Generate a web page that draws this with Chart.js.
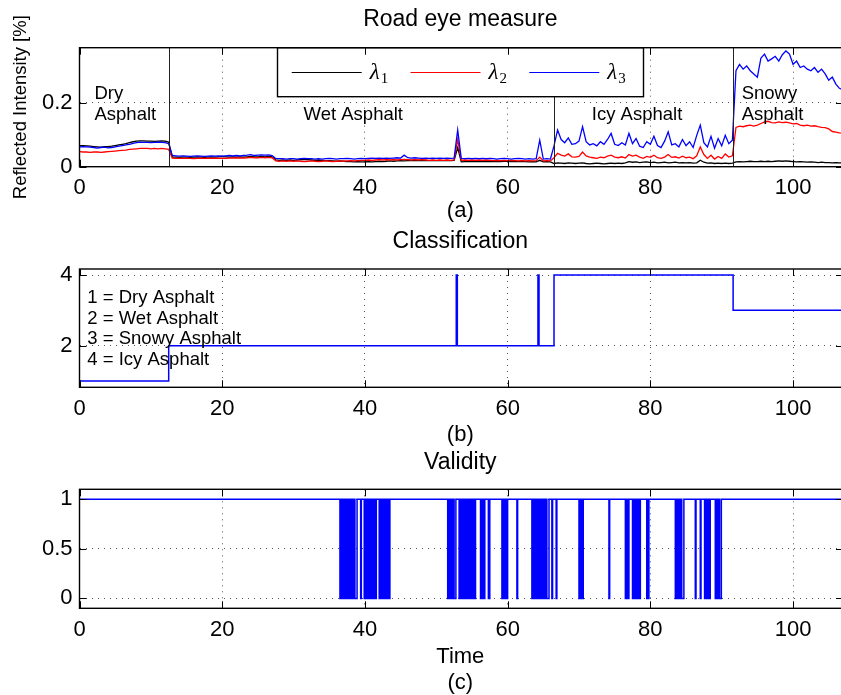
<!DOCTYPE html>
<html>
<head>
<meta charset="utf-8">
<script src="https://cdn.jsdelivr.net/npm/chart.js@4.4.0/dist/chart.umd.min.js"></script>
<style>
html, body { margin: 0; padding: 0; background: #fff; }
#wrap { position: relative; width: 841px; height: 695px; overflow: hidden; }
#wrap canvas { position: absolute; left: 0; }
</style>
</head>
<body>
<div id="wrap">
  <canvas id="measure" width="843" height="225" style="top:0"></canvas>
  <canvas id="classif" width="843" height="225" style="top:225px"></canvas>
  <canvas id="valid" width="843" height="245" style="top:450px"></canvas>
</div>
<script>
// sample step of the road eye signals [s]
var dt = 0.5;

// reflected intensity, one value every dt from t = 0 to 107
var lambda1 = [
  0.066,0.066,0.065,0.064,0.063,0.062,0.061,0.063,0.063,0.064,
  0.066,0.068,0.070,0.072,0.075,0.078,0.080,0.081,0.081,0.080,
  0.080,0.079,0.080,0.081,0.080,0.077,0.030,0.030,0.029,0.030,
  0.030,0.029,0.030,0.031,0.030,0.029,0.030,0.031,0.030,0.031,
  0.032,0.031,0.030,0.031,0.030,0.031,0.030,0.031,0.032,0.031,
  0.031,0.032,0.031,0.032,0.031,0.021,0.020,0.021,0.020,0.021,
  0.020,0.021,0.022,0.023,0.022,0.021,0.020,0.021,0.020,0.019,
  0.019,0.018,0.017,0.018,0.017,0.016,0.016,0.015,0.016,0.015,
  0.015,0.016,0.015,0.016,0.017,0.016,0.017,0.018,0.017,0.018,
  0.019,0.018,0.019,0.020,0.019,0.020,0.019,0.020,0.019,0.020,
  0.019,0.020,0.019,0.020,0.019,0.020,0.060,0.015,0.016,0.017,
  0.016,0.017,0.016,0.017,0.016,0.017,0.016,0.017,0.016,0.017,
  0.017,0.016,0.017,0.016,0.017,0.016,0.015,0.016,0.015,0.020,
  0.015,0.016,0.015,0.010,0.012,0.011,0.010,0.012,0.011,0.010,
  0.011,0.012,0.010,0.009,0.010,0.011,0.010,0.009,0.010,0.011,
  0.010,0.011,0.010,0.012,0.016,0.014,0.015,0.013,0.014,0.015,
  0.013,0.014,0.012,0.013,0.014,0.012,0.013,0.014,0.012,0.013,
  0.012,0.013,0.011,0.012,0.020,0.014,0.011,0.012,0.010,0.011,
  0.010,0.011,0.010,0.011,0.015,0.016,0.015,0.016,0.017,0.016,
  0.016,0.017,0.016,0.017,0.016,0.017,0.018,0.017,0.018,0.017,
  0.016,0.015,0.016,0.015,0.014,0.015,0.014,0.013,0.014,0.013,
  0.013,0.012,0.013,0.012,0.012
];
var lambda2 = [
  0.047,0.046,0.046,0.045,0.046,0.046,0.045,0.046,0.047,0.048,
  0.049,0.050,0.051,0.052,0.054,0.055,0.056,0.057,0.057,0.057,
  0.056,0.057,0.056,0.057,0.056,0.054,0.027,0.026,0.027,0.026,
  0.027,0.026,0.025,0.026,0.027,0.026,0.027,0.026,0.027,0.026,
  0.027,0.026,0.027,0.028,0.027,0.028,0.027,0.028,0.029,0.028,
  0.028,0.029,0.028,0.029,0.028,0.018,0.017,0.018,0.017,0.018,
  0.017,0.018,0.017,0.016,0.017,0.018,0.017,0.016,0.017,0.018,
  0.017,0.016,0.017,0.018,0.017,0.018,0.019,0.018,0.019,0.020,
  0.020,0.021,0.020,0.021,0.022,0.021,0.022,0.021,0.022,0.021,
  0.022,0.023,0.022,0.021,0.022,0.021,0.022,0.021,0.020,0.021,
  0.020,0.021,0.020,0.021,0.020,0.021,0.085,0.020,0.021,0.020,
  0.021,0.020,0.021,0.020,0.021,0.020,0.019,0.020,0.019,0.020,
  0.019,0.020,0.019,0.018,0.019,0.018,0.019,0.018,0.019,0.030,
  0.018,0.019,0.018,0.028,0.042,0.036,0.033,0.040,0.031,0.030,
  0.032,0.046,0.034,0.030,0.028,0.026,0.030,0.028,0.033,0.036,
  0.030,0.028,0.031,0.027,0.038,0.033,0.036,0.030,0.026,0.032,
  0.029,0.036,0.028,0.026,0.030,0.038,0.029,0.031,0.027,0.033,
  0.028,0.030,0.025,0.034,0.062,0.038,0.026,0.036,0.024,0.032,
  0.026,0.040,0.030,0.034,0.123,0.127,0.125,0.128,0.130,0.127,
  0.130,0.135,0.140,0.142,0.138,0.137,0.140,0.138,0.139,0.137,
  0.134,0.135,0.130,0.128,0.130,0.127,0.128,0.125,0.123,0.122,
  0.118,0.110,0.108,0.106,0.105
];
var lambda3 = [
  0.062,0.063,0.062,0.061,0.060,0.058,0.060,0.061,0.059,0.060,
  0.062,0.064,0.066,0.068,0.070,0.073,0.075,0.077,0.076,0.076,
  0.075,0.076,0.077,0.076,0.075,0.072,0.035,0.034,0.033,0.034,
  0.033,0.032,0.033,0.034,0.033,0.032,0.033,0.034,0.033,0.034,
  0.033,0.034,0.035,0.034,0.035,0.034,0.035,0.036,0.038,0.035,
  0.036,0.037,0.036,0.037,0.035,0.026,0.025,0.025,0.024,0.025,
  0.025,0.024,0.025,0.026,0.025,0.025,0.024,0.025,0.024,0.025,
  0.026,0.025,0.024,0.025,0.025,0.026,0.025,0.024,0.025,0.026,
  0.025,0.026,0.027,0.026,0.027,0.026,0.027,0.026,0.027,0.028,
  0.027,0.036,0.028,0.027,0.028,0.027,0.026,0.027,0.026,0.027,
  0.026,0.027,0.026,0.027,0.026,0.027,0.115,0.026,0.025,0.026,
  0.025,0.026,0.025,0.026,0.025,0.026,0.025,0.024,0.025,0.026,
  0.025,0.024,0.025,0.026,0.025,0.024,0.025,0.024,0.025,0.083,
  0.024,0.025,0.024,0.065,0.115,0.085,0.075,0.090,0.070,0.072,
  0.080,0.125,0.078,0.068,0.072,0.065,0.078,0.070,0.085,0.104,
  0.070,0.066,0.075,0.068,0.104,0.072,0.088,0.064,0.060,0.078,
  0.070,0.095,0.066,0.060,0.080,0.109,0.068,0.072,0.062,0.085,
  0.066,0.078,0.060,0.098,0.130,0.075,0.062,0.095,0.058,0.088,
  0.065,0.098,0.072,0.083,0.300,0.320,0.305,0.315,0.300,0.290,
  0.280,0.340,0.352,0.330,0.337,0.345,0.330,0.350,0.362,0.352,
  0.320,0.330,0.310,0.315,0.305,0.300,0.310,0.295,0.305,0.290,
  0.270,0.280,0.258,0.245,0.240
];
var sampleTime = lambda1.map(function (v, i) { return i * dt; });

// road condition segments in (a)
var regionEdges = [12.5, 66.5, 91.6];
var regionNames = [["Dry", "Asphalt"], ["Wet Asphalt"], ["Icy Asphalt"], ["Snowy", "Asphalt"]];

// classification output (stairs)
var classTime = [0, 12.5, 52.8, 52.95, 64.25, 64.4, 66.5, 91.6, 107];
var classValue = [1, 2, 4, 2, 4, 2, 4, 3, 3];
var classNames = ["1 = Dry Asphalt", "2 = Wet Asphalt", "3 = Snowy Asphalt", "4 = Icy Asphalt"];

// validity drops to 0 between these instants
var invalidStart = [36.5, 36.8, 37.1, 37.4, 37.7, 38.0, 38.3, 38.6, 39.4, 39.9, 40.2, 40.5, 40.8, 41.1, 41.4,
  42.0, 42.3, 42.6, 43.0, 43.3,
  51.6, 51.9, 52.2, 52.5, 53.2, 53.5, 53.8, 54.1, 54.4, 54.7, 55.0, 55.3, 56.2, 56.6, 57.3, 59.2, 59.5, 59.8, 61.3,
  63.4, 63.7, 64.0, 64.3, 64.6, 64.9, 65.2, 65.5, 66.2, 66.8, 70.0, 70.4,
  74.2, 76.5, 76.8, 77.5, 77.8, 78.1, 78.5, 79.5, 79.7, 83.5, 83.8, 84.1, 84.4, 86.3, 87.0, 87.6, 87.9, 88.2,
  89.1, 89.4, 89.7];
var invalidEnd = [36.7, 37.0, 37.3, 37.6, 37.9, 38.2, 38.5, 38.9, 39.5, 40.1, 40.4, 40.7, 41.0, 41.3, 41.6,
  42.2, 42.5, 42.8, 43.2, 43.5,
  51.8, 52.1, 52.4, 52.75, 53.4, 53.7, 54.0, 54.3, 54.6, 54.9, 55.2, 55.5, 56.4, 56.8, 57.5, 59.4, 59.7, 60.0, 61.4,
  63.6, 63.9, 64.2, 64.5, 64.8, 65.1, 65.4, 65.8, 66.3, 66.9, 70.2, 70.6,
  74.3, 76.7, 77.0, 77.7, 78.0, 78.3, 78.6, 79.6, 79.8, 83.7, 84.0, 84.3, 84.7, 86.4, 87.1, 87.8, 88.1, 88.4,
  89.3, 89.6, 89.95];

// axis ticks
var timeTicks = [0, 20, 40, 60, 80, 100];
var measureTicks = [0, 0.2];
var classTicks = [2, 4];
var validTicks = [0, 0.5, 1];

Chart.defaults.font.family = '"Liberation Sans", Arial, sans-serif';
Chart.defaults.font.size = 22;
Chart.defaults.color = "#000";

var SANS = '"Liberation Sans", Arial, sans-serif';

function text(ctx, str, x, y, size, align) {
  ctx.save();
  ctx.font = size + "px " + SANS;
  ctx.fillStyle = "#000";
  ctx.textAlign = align || "center";
  ctx.textBaseline = "middle";
  ctx.fillText(str, x, y);
  ctx.restore();
}

// box around the axes, with small inward ticks like matlab
var framePlugin = {
  id: "frame",
  afterDraw: function (chart) {
    var ctx = chart.ctx, a = chart.chartArea;
    var xs = chart.scales.x, ys = chart.scales.y;
    ctx.save();
    ctx.strokeStyle = "#000";
    ctx.lineWidth = 1;
    ctx.beginPath();
    xs.ticks.forEach(function (t) {
      var px = Math.round(xs.getPixelForValue(t.value)) + 0.5;
      ctx.moveTo(px, a.bottom); ctx.lineTo(px, a.bottom - 7);
      ctx.moveTo(px, a.top); ctx.lineTo(px, a.top + 7);
    });
    ys.ticks.forEach(function (t) {
      var py = Math.round(ys.getPixelForValue(t.value)) + 0.5;
      ctx.moveTo(a.left, py); ctx.lineTo(a.left + 7, py);
      ctx.moveTo(a.right, py); ctx.lineTo(a.right - 7, py);
    });
    ctx.stroke();
    ctx.lineWidth = 1.4;
    ctx.strokeRect(a.left, a.top, a.right - a.left, a.bottom - a.top);
    ctx.restore();
    var labels = chart.options.plugins.frame.labels || [];
    labels.forEach(function (l) { text(ctx, l[0], l[1], l[2], l[3]); });
  }
};

// region separators, region names and the lambda legend of (a)
var regionPlugin = {
  id: "regions",
  afterDatasetsDraw: function (chart) {
    var ctx = chart.ctx, a = chart.chartArea;
    var xs = chart.scales.x, ys = chart.scales.y;
    ctx.save();
    ctx.strokeStyle = "#222";
    ctx.lineWidth = 1;
    regionEdges.forEach(function (t) {
      var px = Math.round(xs.getPixelForValue(t)) + 0.5;
      ctx.beginPath(); ctx.moveTo(px, a.top); ctx.lineTo(px, a.bottom); ctx.stroke();
    });
    ctx.restore();

    var starts = [2.1, 31.4, 71.8, 92.8];
    regionNames.forEach(function (lines, i) {
      var px = xs.getPixelForValue(starts[i]);
      var py = ys.getPixelForValue(0.1616);
      if (lines.length === 2) {
        text(ctx, lines[0], px, py - 21.5, 18.5, "left");
        text(ctx, lines[1], px, py, 18.5, "left");
      } else {
        text(ctx, lines[0], px, py, 18.5, "left");
      }
    });

    // legend box
    ctx.save();
    ctx.fillStyle = "#fff";
    ctx.fillRect(277.5, a.top, 366, 49);
    ctx.strokeStyle = "#000";
    ctx.lineWidth = 1.4;
    ctx.strokeRect(277.5, a.top, 366, 49);
    chart.data.datasets.forEach(function (ds, k) {
      var x0 = 291.7 + k * 118.8, y = 72.5;
      ctx.strokeStyle = ds.borderColor;
      ctx.lineWidth = 1.2;
      ctx.beginPath(); ctx.moveTo(x0, y); ctx.lineTo(x0 + 70, y); ctx.stroke();
      ctx.fillStyle = "#000";
      ctx.textAlign = "left";
      ctx.textBaseline = "alphabetic";
      ctx.font = 'italic 23px "Liberation Serif", "DejaVu Serif", serif';
      ctx.fillText(ds.label.charAt(0), x0 + 78, 79);
      var w = ctx.measureText(ds.label.charAt(0)).width;
      ctx.font = '15px "Liberation Serif", "DejaVu Serif", serif';
      ctx.fillText(ds.label.slice(1), x0 + 78 + w + 1, 83);
    });
    ctx.restore();
  }
};

// class legend inside (b)
var classTextPlugin = {
  id: "classText",
  afterDatasetsDraw: function (chart) {
    var xs = chart.scales.x, ys = chart.scales.y;
    var px = xs.getPixelForValue(1.1);
    var py = ys.getPixelForValue(3.36);
    classNames.forEach(function (s, i) {
      text(chart.ctx, s, px, py + i * 20.9, 18.5, "left");
    });
  }
};

function xScale(axisHeight) {
  return {
    type: "linear",
    min: 0,
    max: 107,
    afterBuildTicks: function (s) { s.ticks = timeTicks.map(function (v) { return { value: v }; }); },
    afterFit: function (s) { s.height = axisHeight; },
    grid: { color: "#555", lineWidth: 1, drawTicks: false },
    border: { display: false, dash: [1, 5] },
    ticks: { padding: 8, maxRotation: 0, autoSkip: false, font: { size: 22 } }
  };
}

function yScale(min, max, ticks, title) {
  return {
    min: min,
    max: max,
    afterBuildTicks: function (s) { s.ticks = ticks.map(function (v) { return { value: v }; }); },
    afterFit: function (s) { s.width = 79.5; },
    grid: { color: "#555", lineWidth: 1, drawTicks: false },
    border: { display: false, dash: [1, 5] },
    ticks: { padding: 7, font: { size: 22 }, callback: function (v) { return String(v); } },
    title: title ? { display: true, text: title, font: { size: 18.5 }, padding: { top: 10, bottom: 0 } } : { display: false }
  };
}

function points(xs, ys) {
  return ys.map(function (v, i) { return { x: xs[i], y: v }; });
}

var common = {
  responsive: false,
  animation: false,
  events: [],
  elements: { point: { radius: 0 }, line: { tension: 0 } }
};

new Chart(document.getElementById("measure"), {
  type: "line",
  data: {
    datasets: [
      { label: "λ1", data: points(sampleTime, lambda1), borderColor: "#000000", borderWidth: 1.3, order: 3 },
      { label: "λ2", data: points(sampleTime, lambda2), borderColor: "#ff0000", borderWidth: 1.3, order: 2 },
      { label: "λ3", data: points(sampleTime, lambda3), borderColor: "#0000ff", borderWidth: 1.3, order: 1 }
    ]
  },
  options: Object.assign({}, common, {
    layout: { padding: { top: 47.7, left: 0, right: 0, bottom: 0 } },
    scales: { x: xScale(58.3), y: yScale(0, 0.372, measureTicks, "Reflected Intensity [%]") },
    plugins: {
      legend: { display: false }, tooltip: { enabled: false },
      frame: { labels: [["Road eye measure", 460.3, 20, 23], ["(a)", 460.3, 211, 22]] }
    }
  }),
  plugins: [regionPlugin, framePlugin]
});

new Chart(document.getElementById("classif"), {
  type: "line",
  data: {
    datasets: [
      { label: "class", data: points(classTime, classValue), borderColor: "#0000ff", borderWidth: 1.5, stepped: "before" }
    ]
  },
  options: Object.assign({}, common, {
    layout: { padding: { top: 44, left: 0, right: 0, bottom: 0 } },
    scales: { x: xScale(62.7), y: yScale(0.82, 4.17, classTicks) },
    plugins: {
      legend: { display: false }, tooltip: { enabled: false },
      frame: { labels: [["Classification", 460.3, 17, 23], ["(b)", 460.3, 210, 22]] }
    }
  }),
  plugins: [classTextPlugin, framePlugin]
});

var validPoints = [{ x: 0, y: 1 }];
invalidStart.forEach(function (a, i) {
  validPoints.push({ x: a, y: 0 }, { x: invalidEnd[i], y: 1 });
});
validPoints.push({ x: 107, y: 1 });

new Chart(document.getElementById("valid"), {
  type: "line",
  data: {
    datasets: [
      { label: "validity", data: validPoints, borderColor: "#0000ff", borderWidth: 1.5, stepped: "before" }
    ]
  },
  options: Object.assign({}, common, {
    layout: { padding: { top: 39.3, left: 0, right: 0, bottom: 0 } },
    scales: { x: xScale(86.7), y: yScale(-0.1, 1.1, validTicks) },
    plugins: {
      legend: { display: false }, tooltip: { enabled: false },
      frame: { labels: [["Validity", 460.3, 13, 23], ["Time", 460.3, 207, 22], ["(c)", 460.3, 233, 22]] }
    }
  }),
  plugins: [framePlugin]
});
</script>
</body>
</html>
